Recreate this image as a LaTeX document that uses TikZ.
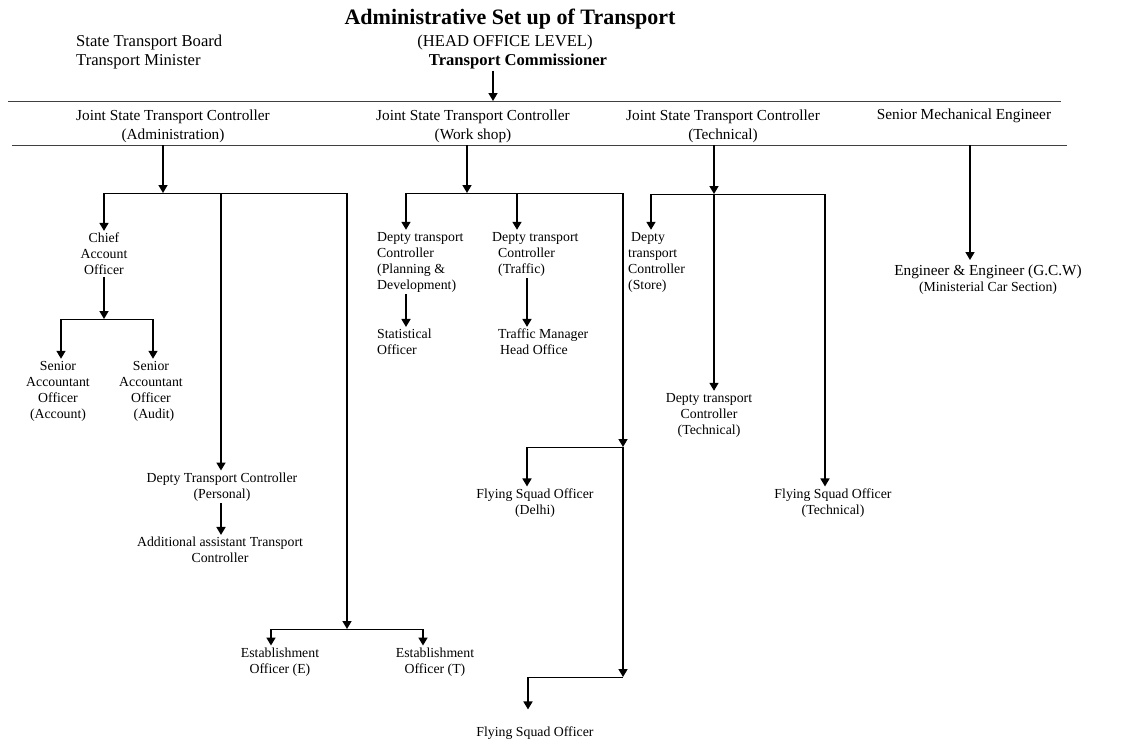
\documentclass[tikz,border=0pt]{standalone}
\usepackage{fontspec}
\setmainfont{Liberation Serif}
\usetikzlibrary{arrows.meta}
\tikzset{
  box/.style={inner sep=2pt, font=\fontsize{13.8}{16}\selectfont, align=center},
  lbox/.style={box, align=left, anchor=west},
  hdr/.style={inner sep=2pt, font=\fontsize{15.3}{19}\selectfont, align=center},
  arr/.style={line width=1.6pt, -{Triangle[width=9pt,length=8pt]}},
  bar/.style={line width=0.9pt},
  rule/.style={line width=1pt, black!75}
}
\begin{document}
\begin{tikzpicture}[x=1pt,y=-1pt]
% I work in pixels of the original page here, y runs downwards
\useasboundingbox (0,0) rectangle (1138,745);
% The heading
\node[font=\fontsize{22}{24}\selectfont\bfseries] (title) at (510,19) {Administrative Set up of Transport};
\node[font=\fontsize{16.6}{19}\selectfont, inner sep=1pt] (level) at (505,43) {(HEAD OFFICE LEVEL)};
\node[font=\fontsize{16.6}{19}\selectfont\bfseries, inner sep=1pt] (commr) at (518,62) {Transport Commissioner};
\node[font=\fontsize{16.6}{19}\selectfont, align=left, anchor=west, inner sep=0pt] (board) at (76,52) {State Transport Board\\Transport Minister};
% The two rules round the controllers
\coordinate (rule1l) at (8,101);
\coordinate (rule1r) at (1061,101);
\coordinate (rule2l) at (12,145);
\coordinate (rule2r) at (1067,145);
\draw[rule] (rule1l) -- (rule1r);
\draw[rule] (rule2l) -- (rule2r);
\coordinate (top) at (493,101);
\draw[arr] (commr.south -| top) -- (top);
% The controllers
\node[hdr] (jadm) at (173,126) {Joint State Transport Controller\\(Administration)};
\node[hdr] (jwork) at (473,126) {Joint State Transport Controller\\(Work shop)};
\node[hdr] (jtech) at (723,126) {Joint State Transport Controller\\(Technical)};
\node[hdr] (sme) at (964,116) {Senior Mechanical Engineer};
% Administration branch
\coordinate (adm) at (163,145);
\coordinate (admj) at (163,193);
\coordinate (adm1) at (104,193);
\coordinate (adm2) at (221,193);
\coordinate (adm3) at (347,193);
\draw[arr] (adm) -- (admj);
\draw[bar] (adm1) -- (adm3);
\node[box] (cao) at (104,254) {Chief\\Account\\Officer};
\draw[arr] (adm1) -- (adm1 |- cao.north);
\coordinate (caoj) at (104,319);
\coordinate (cao1) at (61,319);
\coordinate (cao2) at (153,319);
\draw[arr] (cao.south -| caoj) -- (caoj);
\draw[bar] (cao1) -- (cao2);
\node[box] (sacc) at (58,391) {Senior\\Accountant\\Officer\\(Account)};
\node[box] (saud) at (151,391) {Senior\\Accountant\\Officer\\\hspace*{6pt}(Audit)};
\draw[arr] (cao1) -- (cao1 |- sacc.north);
\draw[arr] (cao2) -- (cao2 |- saud.north);
% personal side
\node[box] (dtcp) at (222,487) {Depty Transport Controller\\(Personal)};
\node[box] (aatc) at (220,550) {Additional assistant Transport\\Controller};
\draw[arr] (adm2) -- (adm2 |- dtcp.north);
\draw[arr] (dtcp.south -| adm2) -- (adm2 |- aatc.north);
% establishment
\coordinate (estj) at (347,629);
\coordinate (est1) at (271,629);
\coordinate (est2) at (423,629);
\draw[arr] (adm3) -- (estj);
\draw[bar] (est1) -- (est2);
\node[box] (esto) at (280,662) {Establishment\\Officer (E)};
\node[box] (estt) at (435,662) {Establishment\\Officer (T)};
\draw[arr] (est1) -- (est1 |- esto.north);
\draw[arr] (est2) -- (est2 |- estt.north);
% Work shop branch
\coordinate (wrk) at (467,145);
\coordinate (wrkj) at (467,193);
\coordinate (wrk1) at (406,193);
\coordinate (wrk2) at (517,193);
\coordinate (wrk3) at (623,193);
\draw[arr] (wrk) -- (wrkj);
\draw[bar] (wrk1) -- (wrk3);
\node[lbox] (dplan) at (375,262) {Depty transport\\Controller\\(Planning \&\\Development)};
\node[lbox] (stat) at (375,342) {Statistical\\Officer};
\draw[arr] (wrk1) -- (wrk1 |- dplan.north);
\draw[arr] (dplan.south -| wrk1) -- (wrk1 |- stat.north);
\node[lbox] (dtraf) at (490,254) {Depty transport\\\hspace*{6pt}Controller\\\hspace*{6pt}(Traffic)};
\node[lbox] (tmgr) at (496,342) {Traffic Manager\\\hspace*{2pt}Head Office};
\coordinate (trf) at (527,300);
\draw[arr] (wrk2) -- (wrk2 |- dtraf.north);
\draw[arr] (dtraf.south -| trf) -- (trf |- tmgr.north);
% flying squads
\coordinate (fsj1) at (623,447);
\coordinate (fs1) at (527,447);
\coordinate (fsj2) at (623,677);
\coordinate (fs2) at (528,677);
\draw[arr] (wrk3) -- (fsj1);
\draw[bar] (fs1) -- (fsj1);
\node[box] (fsdel) at (535,503) {Flying Squad Officer\\(Delhi)};
\draw[arr] (fs1) -- (fs1 |- fsdel.north);
\draw[arr] (fsj1) -- (fsj2);
\draw[bar] (fs2) -- (fsj2);
\node[box] (fsoff) at (535,733) {Flying Squad Officer};
\draw[arr, shorten >=15pt] (fs2) -- (fs2 |- fsoff.north);
% Technical branch
\coordinate (tec) at (714,145);
\coordinate (tecj) at (714,194);
\coordinate (tec1) at (651,194);
\coordinate (tec3) at (825,194);
\draw[arr] (tec) -- (tecj);
\draw[bar] (tec1) -- (tec3);
\node[lbox] (dstore) at (626,262) {\hspace*{3pt}Depty\\transport\\Controller\\(Store)};
\draw[arr] (tec1) -- (tec1 |- dstore.north);
\node[box] (dtech) at (709,415) {Depty transport\\Controller\\(Technical)};
\draw[arr] (tecj) -- (tecj |- dtech.north);
\node[box] (fstech) at (833,503) {Flying Squad Officer\\(Technical)};
\draw[arr] (tec3) -- (tec3 |- fstech.north);
% Senior Mechanical Engineer
\coordinate (smej) at (970,145);
\node[inner sep=2pt, align=center, font=\fontsize{15.3}{16}\selectfont] (engr) at (988,280) {Engineer \& Engineer (G.C.W)\\{\fontsize{13.8}{16}\selectfont (Ministerial Car Section)}};
\draw[arr, shorten >=3pt] (smej) -- (smej |- engr.north);
\end{tikzpicture}
\end{document}
